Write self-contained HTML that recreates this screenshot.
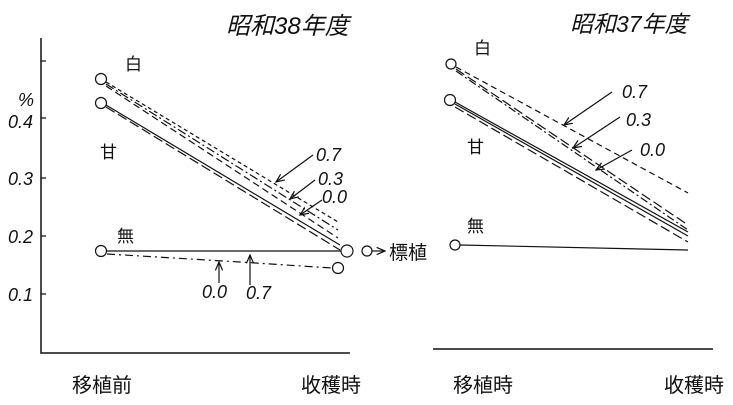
<!DOCTYPE html><html><head><meta charset="utf-8"><style>body{margin:0;background:#fff}svg{display:block}text{font-family:"Liberation Sans","Noto Sans CJK JP",sans-serif;fill:#111}.t{font-style:italic}</style></head><body>
<svg width="733" height="405" viewBox="0 0 733 405" xmlns="http://www.w3.org/2000/svg">
<defs><marker id="a" markerWidth="8" markerHeight="8" refX="7" refY="4" orient="auto"><path d="M0,1 L7,4 L0,7" fill="none" stroke="#111" stroke-width="1"/></marker></defs>
<g stroke="#111" fill="none" stroke-width="1.2">
<path d="M41,38 V353 H350" stroke-width="1.5"/>
<path d="M41,61h5M41,118h5M41,178h5M41,236h5M41,294h5"/>
<path d="M106,82 L338,222" stroke-dasharray="4,3"/>
<path d="M106,84 L338,230" stroke-dasharray="9,3,2,3"/>
<path d="M106,86 L338,238" stroke-dasharray="7,4"/>
<path d="M106,105 L340,245"/>
<path d="M106,107 L340,250" stroke-dasharray="10,4"/>
<path d="M107,251 L341,251"/>
<path d="M107,254 L240,262 L332,268" stroke-dasharray="8,4,2,4"/>
<circle cx="101" cy="79" r="5.5"/><circle cx="101" cy="103" r="5.5"/><circle cx="101" cy="251" r="5.5"/>
<circle cx="347" cy="251" r="6"/><circle cx="338" cy="268" r="5.5"/><circle cx="367" cy="251" r="5"/>
<path d="M372,251 H385" marker-end="url(#a)"/>
<path d="M313,155 L276,182" marker-end="url(#a)"/>
<path d="M315,180 L290,199" marker-end="url(#a)"/>
<path d="M322,200 L300,215" marker-end="url(#a)"/>
<path d="M219,283 V262" marker-end="url(#a)"/>
<path d="M250,285 V255" marker-end="url(#a)"/>
<path d="M433,349 H713" stroke-width="1.5"/>
<path d="M456,67 L688,193" stroke-dasharray="6,4"/>
<path d="M456,69 L688,225" stroke-dasharray="10,4"/>
<path d="M456,71 L688,230" stroke-dasharray="8,3,2,3"/>
<path d="M455,102 L688,232"/>
<path d="M455,104 L688,236"/>
<path d="M455,107 L688,242" stroke-dasharray="10,4"/>
<path d="M460,245 L688,250"/>
<circle cx="451" cy="64" r="5"/><circle cx="450" cy="100" r="5.5"/><circle cx="455" cy="245" r="5"/>
<path d="M612,92 L564,125" marker-end="url(#a)"/>
<path d="M620,117 L573,148" marker-end="url(#a)"/>
<path d="M632,150 L596,170" marker-end="url(#a)"/>
</g>
<text x="226" y="34" font-size="24" class="t">昭和38年度</text>
<text x="570" y="32" font-size="23" class="t">昭和37年度</text>
<g font-size="18" class="t">
<text x="18" y="106">%</text>
<text x="8" y="128">0.4</text><text x="8" y="185">0.3</text><text x="8" y="243">0.2</text><text x="8" y="301">0.1</text>
<text x="316" y="161">0.7</text><text x="318" y="185">0.3</text><text x="322" y="203">0.0</text>
<text x="202" y="298">0.0</text><text x="246" y="299">0.7</text>
<text x="622" y="98">0.7</text><text x="626" y="126">0.3</text><text x="640" y="156">0.0</text>
</g>
<g font-size="17">
<text x="125" y="70">白</text><text x="100" y="158">甘</text><text x="117" y="242">無</text>
<text x="474" y="54">白</text><text x="467" y="153">甘</text><text x="467" y="232">無</text>
<text x="389" y="259" font-size="19">標植</text>
</g>
<g font-size="20">
<text x="72" y="392">移植前</text><text x="301" y="392">收穫時</text>
<text x="453" y="392">移植時</text><text x="664" y="392">收穫時</text>
</g>
</svg></body></html>
